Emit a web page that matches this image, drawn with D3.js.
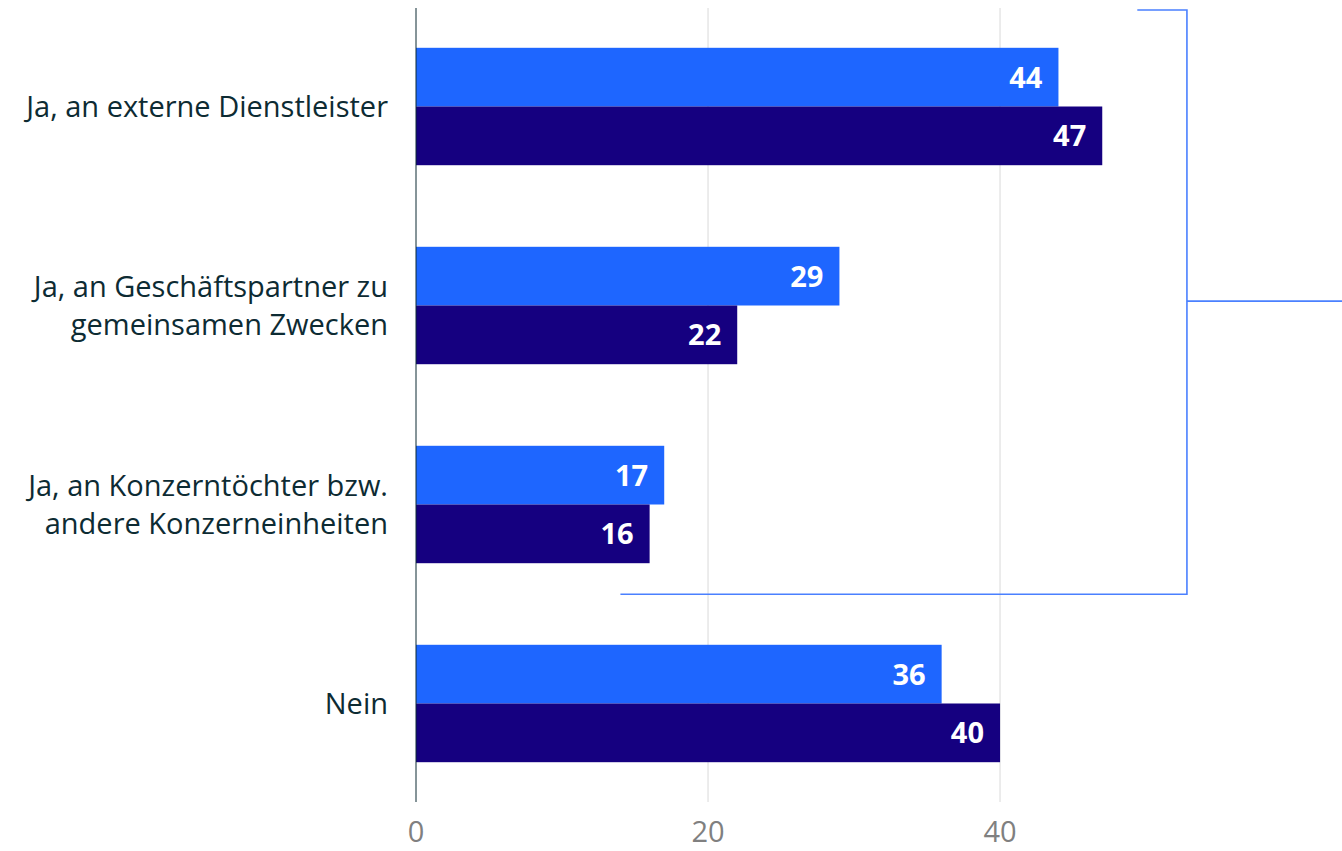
<!DOCTYPE html>
<html>
<head>
<meta charset="utf-8">
<script src="https://cdn.jsdelivr.net/npm/d3@7"></script>
<style>
  body { margin: 0; background: #fff; }
  svg { display: block; font-family: "Open Sans", "Noto Sans", sans-serif; }
</style>
</head>
<body>
<svg id="chart" width="1342" height="851"></svg>
<script>
// categories, one entry per row (lines of the label)
var categories = [
  ["Ja, an externe Dienstleister"],
  ["Ja, an Geschäftspartner zu", "gemeinsamen Zwecken"],
  ["Ja, an Konzerntöchter bzw.", "andere Konzerneinheiten"],
  ["Nein"]
];
var seriesA = [44, 29, 17, 36];   // light blue
var seriesB = [47, 22, 16, 40];   // dark blue
var xTicks = [0, 20, 40];

// bracket annotation (data units on x)
var bracketTopX = 49.4;
var bracketX = 52.8;
var bracketBottomX = 14;

var svg = d3.select("#chart");
var W = 1342, H = 851;
var plotTop = 8, plotBottom = 802, plotLeft = 416;

var x = d3.scaleLinear().domain([0, 63.42]).range([plotLeft, W]);
var y = d3.scaleBand().domain(d3.range(categories.length)).range([plotTop, plotBottom])
  .paddingInner(0.41).paddingOuter(0.2);
var sub = d3.scaleBand().domain([0, 1]).range([0, y.bandwidth()]);

// grid
svg.append("g").selectAll("line").data(xTicks.slice(1)).join("line")
  .attr("x1", d => x(d)).attr("x2", d => x(d))
  .attr("y1", plotTop).attr("y2", plotBottom)
  .attr("stroke", "#d9d9d9").attr("stroke-width", 1);

// tick labels
svg.append("g").selectAll("text").data(xTicks).join("text")
  .attr("x", d => x(d)).attr("y", 842)
  .attr("text-anchor", "middle")
  .attr("fill", "#808080").attr("font-size", 29)
  .text(d => d);

var rows = svg.append("g").selectAll("g").data(categories).join("g");

rows.append("rect")
  .attr("x", x(0)).attr("y", (d, i) => y(i) + sub(0))
  .attr("width", (d, i) => x(seriesA[i]) - x(0)).attr("height", sub.bandwidth())
  .attr("fill", "#1e66ff");
rows.append("rect")
  .attr("x", x(0)).attr("y", (d, i) => y(i) + sub(1))
  .attr("width", (d, i) => x(seriesB[i]) - x(0)).attr("height", sub.bandwidth())
  .attr("fill", "#150080");

rows.append("text")
  .attr("x", (d, i) => x(seriesA[i]) - 16).attr("y", (d, i) => y(i) + sub(0) + sub.bandwidth() / 2)
  .attr("dy", "0.36em").attr("text-anchor", "end")
  .attr("fill", "#fff").attr("font-size", 29).attr("font-weight", "bold")
  .text((d, i) => seriesA[i]);
rows.append("text")
  .attr("x", (d, i) => x(seriesB[i]) - 16).attr("y", (d, i) => y(i) + sub(1) + sub.bandwidth() / 2)
  .attr("dy", "0.36em").attr("text-anchor", "end")
  .attr("fill", "#fff").attr("font-size", 29).attr("font-weight", "bold")
  .text((d, i) => seriesB[i]);

// category labels
rows.append("text")
  .attr("x", 388).attr("text-anchor", "end")
  .attr("fill", "#0d2b33").attr("font-size", 29)
  .each(function (d, i) {
    var cy = y(i) + y.bandwidth() / 2;
    var lh = 38;
    var y0 = cy - (d.length - 1) * lh / 2;
    d3.select(this).selectAll("tspan").data(d).join("tspan")
      .attr("x", 388).attr("y", (t, k) => y0 + k * lh).attr("dy", "0.36em")
      .text(t => t);
  });

// axis line at zero
svg.append("line")
  .attr("x1", x(0)).attr("x2", x(0)).attr("y1", plotTop).attr("y2", plotBottom)
  .attr("stroke", "#0d2b33").attr("stroke-width", 1);

// bracket annotation
var bTop = plotTop + 2;
var bBottom = y(2) + y.bandwidth() + 31;
var bMid = (bTop + bBottom) / 2 - 1;
var bracket = svg.append("g").attr("stroke", "#4a80ff").attr("stroke-width", 1.6).attr("fill", "none");
bracket.append("path")
  .attr("d", "M" + x(bracketTopX) + "," + bTop + "H" + x(bracketX) + "V" + bBottom + "H" + x(bracketBottomX));
bracket.append("line")
  .attr("x1", x(bracketX)).attr("x2", W).attr("y1", bMid).attr("y2", bMid);
</script>
</body>
</html>
